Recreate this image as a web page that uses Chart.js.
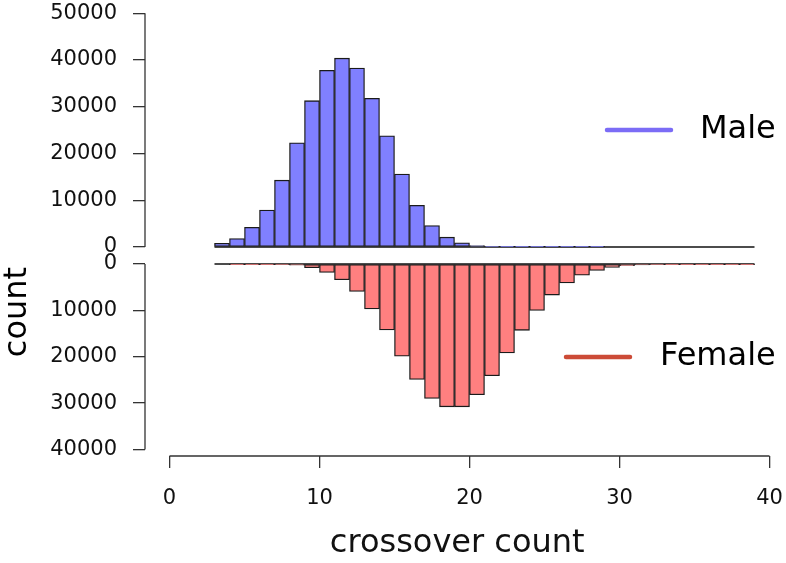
<!DOCTYPE html>
<html>
<head>
<meta charset="utf-8">
<script src="https://cdn.jsdelivr.net/npm/chart.js@4.4.1/dist/chart.umd.min.js"></script>
<style>
  body { margin: 0; background: #fff; }
  #wrap { position: relative; width: 786px; height: 563px; }
  canvas { position: absolute; left: 0; }
  #male { top: 0; }
  #female { top: 250px; }
</style>
</head>
<body>
<div id="wrap">
  <canvas id="male" width="786" height="262"></canvas>
  <canvas id="female" width="786" height="313"></canvas>
</div>
<script>
// histogram bins (left edge, width 1)
const bins = [3, 4, 5, 6, 7, 8, 9, 10, 11, 12, 13, 14, 15, 16, 17, 18, 19, 20,
  21, 22, 23, 24, 25, 26, 27, 28, 29, 30, 31, 32, 33, 34, 35, 36, 37, 38];
const maleCounts = [800, 1800, 4200, 7900, 14300, 22300, 31300, 37800, 40400, 38300,
  31800, 23800, 15600, 8900, 4600, 2100, 900, 300, 120, 50, 20, 10, 5, 3, 2, 1,
  0, 0, 0, 0, 0, 0, 0, 0, 0, 0];
const femaleCounts = [0, 5, 20, 50, 100, 250, 800, 1800, 3400, 5900, 9700, 14200,
  19900, 24900, 29000, 30800, 30800, 28200, 24100, 19200, 14300, 10000, 6700, 4100,
  2400, 1400, 750, 350, 200, 100, 50, 20, 10, 5, 2, 1];
const maleTicks = [0, 10000, 20000, 30000, 40000, 50000];
const femaleTicks = [0, 10000, 20000, 30000, 40000];
const xTicks = [0, 10, 20, 30, 40];
const seriesNames = ['Male', 'Female'];

const FONT = 'DejaVu Sans';
const xMin = -1.633; // leaves a gap between y axis and x = 0, like R

// axis lines only over the tick range, legend line + label, rotated y title
const decorations = {
  id: 'decorations',
  afterDraw(chart, args, opts) {
    const ctx = chart.ctx;
    const xs = chart.scales.x, ys = chart.scales.y;
    const area = chart.chartArea;
    ctx.save();
    ctx.strokeStyle = '#333';
    ctx.lineWidth = 1.3;
    ctx.beginPath();
    ctx.moveTo(area.left, ys.getPixelForValue(opts.yTicks[0]));
    ctx.lineTo(area.left, ys.getPixelForValue(opts.yTicks[opts.yTicks.length - 1]));
    if (opts.xAxis) {
      ctx.moveTo(xs.getPixelForValue(xTicks[0]), area.bottom);
      ctx.lineTo(xs.getPixelForValue(xTicks[xTicks.length - 1]), area.bottom);
    }
    ctx.stroke();

    // legend
    const lg = opts.legend;
    ctx.strokeStyle = lg.color;
    ctx.lineWidth = 4.5;
    ctx.lineCap = 'round';
    ctx.beginPath();
    ctx.moveTo(lg.x, lg.y);
    ctx.lineTo(lg.x + 64, lg.y);
    ctx.stroke();
    ctx.fillStyle = '#000';
    ctx.font = '32px "' + FONT + '"';
    ctx.textBaseline = 'middle';
    ctx.textAlign = 'left';
    ctx.fillText(chart.data.datasets[0].label, lg.textX, lg.y);

    if (opts.yTitle) {
      ctx.translate(opts.yTitle.x, opts.yTitle.y);
      ctx.rotate(-Math.PI / 2);
      ctx.textAlign = 'center';
      ctx.fillText(opts.yTitle.text, 0, 0);
    }
    ctx.restore();
  }
};

function noOverflow(s) {
  s.paddingTop = 0;
  s.paddingBottom = 0;
  s.paddingLeft = 0;
  s.paddingRight = 0;
}

function makeChart(canvasId, counts, name, fill, yTicks, opts) {
  return new Chart(document.getElementById(canvasId), {
    type: 'bar',
    data: {
      datasets: [{
        label: name,
        data: bins.map((b, i) => ({ x: b + 0.5, y: counts[i] })),
        backgroundColor: fill,
        borderColor: '#1a1a1a',
        borderWidth: 1.3,
        borderSkipped: false,
        barPercentage: 1,
        categoryPercentage: 1,
        clip: false
      }, {
        type: 'line',
        label: 'baseline',
        data: [{ x: bins[0], y: 0 }, { x: bins[bins.length - 1] + 1, y: 0 }],
        borderColor: '#111',
        borderWidth: 1.3,
        pointRadius: 0,
        clip: false
      }]
    },
    options: {
      responsive: false,
      animation: false,
      layout: { padding: opts.padding },
      plugins: {
        legend: { display: false },
        tooltip: { enabled: false },
        decorations: {
          yTicks: yTicks,
          xAxis: opts.showX,
          legend: opts.legend,
          yTitle: opts.yTitle
        }
      },
      scales: {
        x: {
          type: 'linear',
          min: xMin,
          max: 40,
          offset: false,
          display: opts.showX,
          afterBuildTicks: s => { s.ticks = xTicks.map(v => ({ value: v })); },
          afterFit: s => { noOverflow(s); if (opts.showX) s.height = 107; },
          border: { display: false },
          grid: { offset: false, drawOnChartArea: false, drawTicks: true, tickLength: 12, color: '#333', lineWidth: 1.3 },
          ticks: { color: '#111', padding: 18, font: { family: FONT, size: 21 }, maxRotation: 0 },
          title: {
            display: true,
            text: 'crossover count',
            color: '#111',
            font: { family: FONT, size: 32 },
            padding: { top: 0, bottom: 0 }
          }
        },
        y: {
          min: 0,
          max: opts.yMax,
          reverse: opts.reverse,
          afterBuildTicks: s => { s.ticks = yTicks.map(v => ({ value: v })); },
          afterFit: s => { noOverflow(s); s.width = 145; },
          border: { display: false },
          grid: { drawOnChartArea: false, drawTicks: true, tickLength: 12, color: '#333', lineWidth: 1.3 },
          ticks: {
            color: '#111',
            padding: 16,
            font: { family: FONT, size: 21 },
            callback: v => String(v)
          }
        }
      }
    },
    plugins: [decorations]
  });
}

makeChart('male', maleCounts, seriesNames[0], '#8080ff', maleTicks, {
  yMax: 50000,
  reverse: false,
  showX: false,
  padding: { top: 13.3, right: 16.5, bottom: 15, left: 0 },
  legend: { color: '#7b6cf6', x: 607, y: 130, textX: 700 }
});

makeChart('female', femaleCounts, seriesNames[1], '#ff8080', femaleTicks, {
  yMax: 41400,
  reverse: true,
  showX: true,
  padding: { top: 14, right: 16.5, bottom: 0, left: 0 },
  legend: { color: '#cc4b37', x: 566, y: 107, textX: 660 },
  yTitle: { text: 'count', x: 18, y: 62 }
});
</script>
</body>
</html>
